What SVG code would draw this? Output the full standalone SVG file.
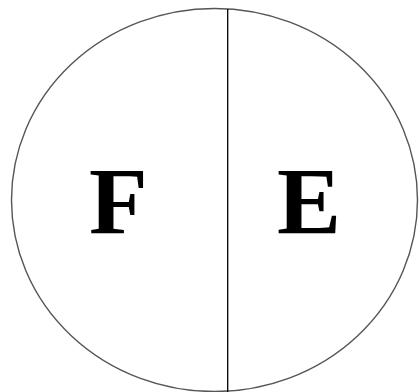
<svg xmlns="http://www.w3.org/2000/svg" width="419" height="392" viewBox="0 0 419 392">
<style>
.lbl{font-family:"Liberation Serif","Times New Roman",serif;font-weight:bold;font-size:96px;fill:#000}
</style>
<rect width="419" height="392" fill="#fff"/>
<g id="circle">
<ellipse cx="214.5" cy="200" rx="203" ry="191.5" fill="none" stroke="#555" stroke-width="1.4"/>
</g>
<g id="connectors">
<line x1="227.7" y1="9" x2="227.7" y2="392" stroke="#000" stroke-width="1.3"/>
</g>
<g id="F"><text class="lbl" x="89" y="233.5">F</text></g>
<g id="E"><text class="lbl" x="277" y="233.5">E</text></g>
</svg>
